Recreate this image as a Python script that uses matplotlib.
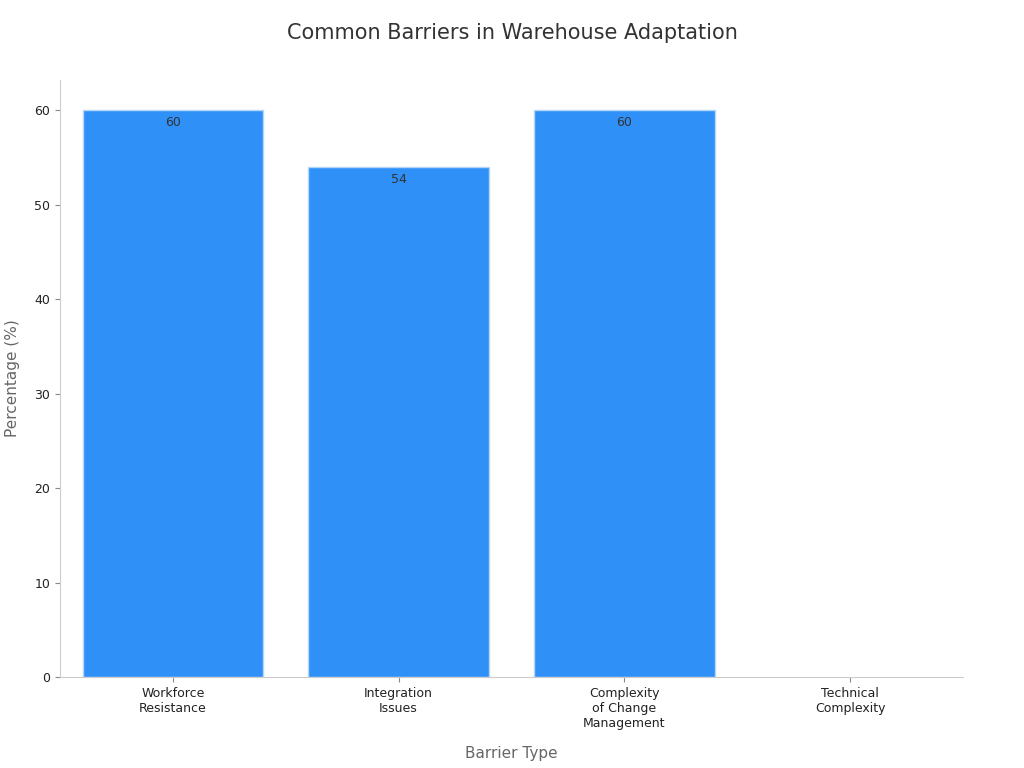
import numpy as np
import matplotlib.pyplot as plt

categories = ['Workforce\nResistance', 'Integration\nIssues', 'Complexity\nof Change\nManagement', 'Technical\nComplexity']
values = [60, 54, 60, np.nan]

fig = plt.figure(figsize=(10.24, 7.68), dpi=100)
ax = fig.add_axes([60 / 1024, 1 - 677 / 768, 903 / 1024, 597 / 768])

x = np.arange(len(categories))
bars = ax.bar(x, values, width=0.8, color='#2f91f8', edgecolor='#b5d6f7', linewidth=1)
for xi, v in zip(x, values):
    if not np.isnan(v):
        ax.text(xi, v - 0.6, f'{v:g}', ha='center', va='top', fontsize=9, color='#333333')

ax.set_xlim(-0.5, 3.5)
ax.set_ylim(0, 63.2)
ax.set_xticks(x)
ax.set_xticklabels(categories, fontsize=9, color='#222222')
ax.set_yticks(range(0, 61, 10))
ax.tick_params(axis='y', labelsize=9, colors='#222222')
ax.tick_params(axis='both', color='#888888')
for s in ['top', 'right']:
    ax.spines[s].set_visible(False)
for s in ['left', 'bottom']:
    ax.spines[s].set_color('#cccccc')

ax.set_xlabel('Barrier Type', fontsize=11, color='#666666', labelpad=12)
ax.set_ylabel('Percentage (%)', fontsize=11, color='#666666', labelpad=10)
fig.suptitle('Common Barriers in Warehouse Adaptation', fontsize=15, color='#333333', y=0.97)

fig.savefig('out.png')
